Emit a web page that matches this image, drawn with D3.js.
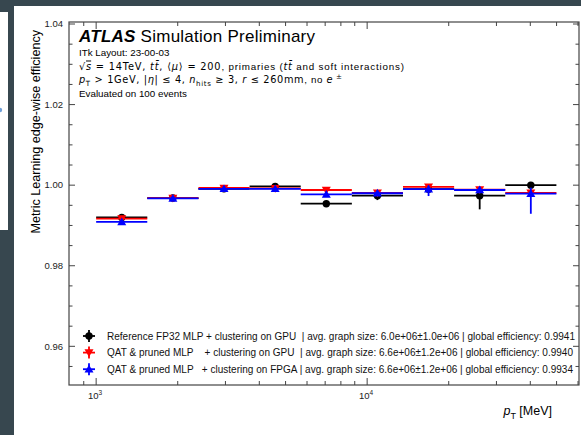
<!DOCTYPE html>
<html>
<head>
<meta charset="utf-8">
<script src="https://cdn.jsdelivr.net/npm/d3@7"></script>
<style>
  html, body { margin: 0; padding: 0; background: #fff; }
  svg { display: block; }
  text { font-family: 'Liberation Sans', Arial, Helvetica, sans-serif; }
</style>
</head>
<body>
<svg id="chart" width="581" height="435"></svg>
<script>
// bins in pT (MeV), log spaced
const binEdges = [1000, 1544, 2385, 3683, 5687, 8782, 13560, 20939, 32332, 49925];
const binCenters = [1243, 1919, 2963, 4577, 7067, 10912, 16850, 26019, 40177];

// reference FP32 MLP + GPU clustering
const refEff   = [0.9920, 0.9968, 0.9991, 0.9997, 0.9954, 0.9974, 0.9990, 0.9974, 1.0000];
const refErrLo = [0.0003, 0.0002, 0.0002, 0.0002, 0.0003, 0.0011, 0.0004, 0.0034, 0.0004];
const refErrHi = [0.0003, 0.0002, 0.0002, 0.0002, 0.0003, 0.0008, 0.0004, 0.0014, 0.0000];

// QAT & pruned MLP + GPU clustering
const gpuEff   = [0.9917, 0.9968, 0.9993, 0.9992, 0.9988, 0.9981, 0.9996, 0.9989, 0.9981];
const gpuErrLo = [0.0003, 0.0002, 0.0002, 0.0002, 0.0003, 0.0005, 0.0004, 0.0006, 0.0008];
const gpuErrHi = [0.0003, 0.0002, 0.0002, 0.0002, 0.0003, 0.0005, 0.0004, 0.0006, 0.0008];

// QAT & pruned MLP + FPGA clustering
const fpgaEff   = [0.9909, 0.9967, 0.9991, 0.9991, 0.9977, 0.9980, 0.9990, 0.9988, 0.9979];
const fpgaErrLo = [0.0003, 0.0002, 0.0002, 0.0002, 0.0004, 0.0006, 0.0017, 0.0008, 0.0050];
const fpgaErrHi = [0.0003, 0.0002, 0.0002, 0.0002, 0.0004, 0.0006, 0.0009, 0.0008, 0.0015];

const legendLabels = [
  "Reference FP32 MLP + clustering on GPU  | avg. graph size: 6.0e+06\u00b11.0e+06 | global efficiency: 0.9941",
  "QAT & pruned MLP    + clustering on GPU  | avg. graph size: 6.6e+06\u00b11.2e+06 | global efficiency: 0.9940",
  "QAT & pruned MLP   + clustering on FPGA | avg. graph size: 6.6e+06\u00b11.2e+06 | global efficiency: 0.9934"
];

const yMajor = [0.96, 0.98, 1.00, 1.02, 1.04];
const yMinor = [0.955, 0.965, 0.97, 0.975, 0.985, 0.99, 0.995, 1.005, 1.01, 1.015, 1.025, 1.03, 1.035];
const xMajor = [1000, 10000];
const xMinor = [900, 2000, 3000, 4000, 5000, 6000, 7000, 8000, 9000, 20000, 30000, 40000, 50000, 60000];

const svg = d3.select("#chart");
const W = 581, H = 435;
const m = {left: 69, right: 579, top: 22, bottom: 385};

// slide background around the figure
const slate = "#37474f";
svg.append("rect").attr("x", 0).attr("y", 0).attr("width", W).attr("height", H).attr("fill", "#fff");
svg.append("rect").attr("x", 0).attr("y", 0).attr("width", W).attr("height", 6).attr("fill", slate);
svg.append("rect").attr("x", 0).attr("y", 0).attr("width", 14).attr("height", H).attr("fill", slate);
svg.append("rect").attr("x", 0).attr("y", 12).attr("width", 8).attr("height", 218).attr("fill", "#fff");
svg.append("circle").attr("cx", 0).attr("cy", 110).attr("r", 2.2).attr("fill", "#6f9fd8");

const x = d3.scaleLog().domain([794, 60500]).range([m.left, m.right]);
const y = d3.scaleLinear().domain([0.9504, 1.0405]).range([m.bottom, m.top]);

const axisCol = "#444";
const g = svg.append("g");

// ticks, inward on all four sides
function tickSet(vals, len, horizontal) {
  vals.forEach(v => {
    if (horizontal) {
      const px = x(v);
      g.append("line").attr("x1", px).attr("x2", px).attr("y1", m.bottom).attr("y2", m.bottom - len)
        .attr("stroke", axisCol).attr("stroke-width", 1);
      g.append("line").attr("x1", px).attr("x2", px).attr("y1", m.top).attr("y2", m.top + len)
        .attr("stroke", axisCol).attr("stroke-width", 1);
    } else {
      const py = y(v);
      g.append("line").attr("x1", m.left).attr("x2", m.left + len).attr("y1", py).attr("y2", py)
        .attr("stroke", axisCol).attr("stroke-width", 1);
      g.append("line").attr("x1", m.right).attr("x2", m.right - len).attr("y1", py).attr("y2", py)
        .attr("stroke", axisCol).attr("stroke-width", 1);
    }
  });
}
tickSet(yMajor, 6, false);
tickSet(yMinor, 3.5, false);
tickSet(xMajor, 7, true);
tickSet(xMinor, 4, true);

g.append("rect").attr("x", m.left).attr("y", m.top)
  .attr("width", m.right - m.left).attr("height", m.bottom - m.top)
  .attr("fill", "none").attr("stroke", axisCol).attr("stroke-width", 1.2);

// y tick labels
g.selectAll(".ylab").data(yMajor).enter().append("text")
  .attr("x", m.left - 6).attr("y", d => y(d) + 3.3)
  .attr("text-anchor", "end").attr("font-size", 9.5).attr("fill", "#222")
  .text(d => d3.format(".2f")(d));

// x tick labels 10^n
xMajor.forEach(v => {
  const t = g.append("text").attr("x", x(v) - 1).attr("y", 399)
    .attr("text-anchor", "middle").attr("font-size", 9.5).attr("fill", "#222");
  t.append("tspan").text("10");
  t.append("tspan").attr("dy", -4.5).attr("font-size", 6.5).text(Math.round(Math.log10(v)));
});

// rich text helper; width stretches the line to the measured length
const mathFont = "'DejaVu Sans', sans-serif";
function rich(x0, y0, size, parts, anchor, width) {
  const t = svg.append("text").attr("x", x0).attr("y", y0).attr("font-size", size)
    .attr("fill", "#000").attr("text-anchor", anchor || "start").attr("xml:space", "preserve");
  parts.forEach(p => {
    if (typeof p === "string") p = {t: p};
    const s = t.append("tspan").text(p.t);
    if (p.m) s.style("font-family", mathFont);
    if (p.i) s.attr("font-style", "italic");
    if (p.b) s.attr("font-weight", "bold");
    if (p.o) s.style("text-decoration", "overline");
    if (p.sub) s.attr("dy", size * 0.28).attr("font-size", size * 0.72);
    if (p.sup) s.attr("dy", -size * 0.4).attr("font-size", size * 0.72);
    if (p.back) s.attr("dy", p.back);
  });
  if (width) t.attr("textLength", width).attr("lengthAdjust", "spacing");
  return t;
}

const fs = 9.8;
rich(79, 42, 17, [{t: "ATLAS", b: true, i: true}, " Simulation Preliminary"], "start", 236);
rich(79, 56, fs, ["ITk Layout: 23-00-03"]);
rich(79, 69.5, fs, [{t: "\u221a", m: true}, {t: "s", i: true, o: true, m: true}, {t: " = 14TeV, ", m: true},
  {t: "tt\u0304", i: true, m: true}, {t: ", \u27e8", m: true}, {t: "\u03bc", i: true, m: true},
  {t: "\u27e9 = 200", m: true}, ", primaries (", {t: "tt\u0304", i: true, m: true},
  " and soft interactions)"], "start", 325);
rich(79, 83, fs, [{t: "p", i: true, m: true}, {t: "T", sub: true, m: true}, {t: " > 1GeV, |", back: -2.75, m: true},
  {t: "\u03b7", i: true, m: true}, {t: "| \u2264 4, ", m: true}, {t: "n", i: true, m: true},
  {t: "hits", sub: true, m: true}, {t: " \u2265 3, ", back: -2.75, m: true}, {t: "r", i: true, m: true},
  {t: " \u2264 260mm", m: true}, ", no ", {t: "e", i: true, m: true}, {t: " \u00b1", sup: true, m: true}], "start", 263);
rich(79, 96.5, fs, ["Evaluated on 100 events"]);

// axis titles
rich(552, 415, 12.5, [{t: "p", i: true}, {t: "T", sub: true}, {t: " [MeV]", back: -3.5}], "end");
svg.append("text").attr("transform", "translate(39.5,30) rotate(-90)")
  .attr("text-anchor", "end").attr("font-size", 12.6).attr("fill", "#000")
  .text("Metric Learning edge-wise efficiency");

// series
const series = [
  {eff: refEff, lo: refErrLo, hi: refErrHi, col: "#000", sym: "circle"},
  {eff: gpuEff, lo: gpuErrLo, hi: gpuErrHi, col: "#ff0000", sym: "tdown"},
  {eff: fpgaEff, lo: fpgaErrLo, hi: fpgaErrHi, col: "#0000ff", sym: "tup"}
];

function marker(sel, sym, col, cx, cy) {
  if (sym === "circle") {
    sel.append("circle").attr("cx", cx).attr("cy", cy).attr("r", 3.7).attr("fill", col);
  } else {
    const s = sym === "tup" ? 1 : -1;
    const pts = [[cx, cy - 4.4 * s], [cx - 4.5, cy + 3.3 * s], [cx + 4.5, cy + 3.3 * s]];
    sel.append("path").attr("d", "M" + pts.map(p => p.join(",")).join("L") + "Z").attr("fill", col);
  }
}

const pg = svg.append("g");
series.forEach(sr => {
  const sg = pg.append("g");
  sr.eff.forEach((v, i) => {
    sg.append("line").attr("x1", x(binEdges[i])).attr("x2", x(binEdges[i + 1]))
      .attr("y1", y(v)).attr("y2", y(v)).attr("stroke", sr.col).attr("stroke-width", 1.8);
    sg.append("line").attr("x1", x(binCenters[i])).attr("x2", x(binCenters[i]))
      .attr("y1", y(v - sr.lo[i])).attr("y2", y(v + sr.hi[i])).attr("stroke", sr.col).attr("stroke-width", 1.8);
    marker(sg, sr.sym, sr.col, x(binCenters[i]), y(v));
  });
});

// legend
const lg = svg.append("g");
const legWidths = [468, 466, 466];
series.forEach((sr, i) => {
  const ly = 336 + i * 16.6;
  lg.append("line").attr("x1", 83).attr("x2", 95).attr("y1", ly).attr("y2", ly).attr("stroke", sr.col).attr("stroke-width", 1.8);
  lg.append("line").attr("x1", 89).attr("x2", 89).attr("y1", ly - 6).attr("y2", ly + 6).attr("stroke", sr.col).attr("stroke-width", 1.8);
  marker(lg, sr.sym, sr.col, 89, ly);
  lg.append("text").attr("x", 107).attr("y", ly + 3.5).attr("font-size", 10).attr("fill", "#111")
    .attr("xml:space", "preserve").style("white-space", "pre")
    .attr("textLength", legWidths[i]).attr("lengthAdjust", "spacing")
    .text(legendLabels[i]);
});
</script>
</body>
</html>
